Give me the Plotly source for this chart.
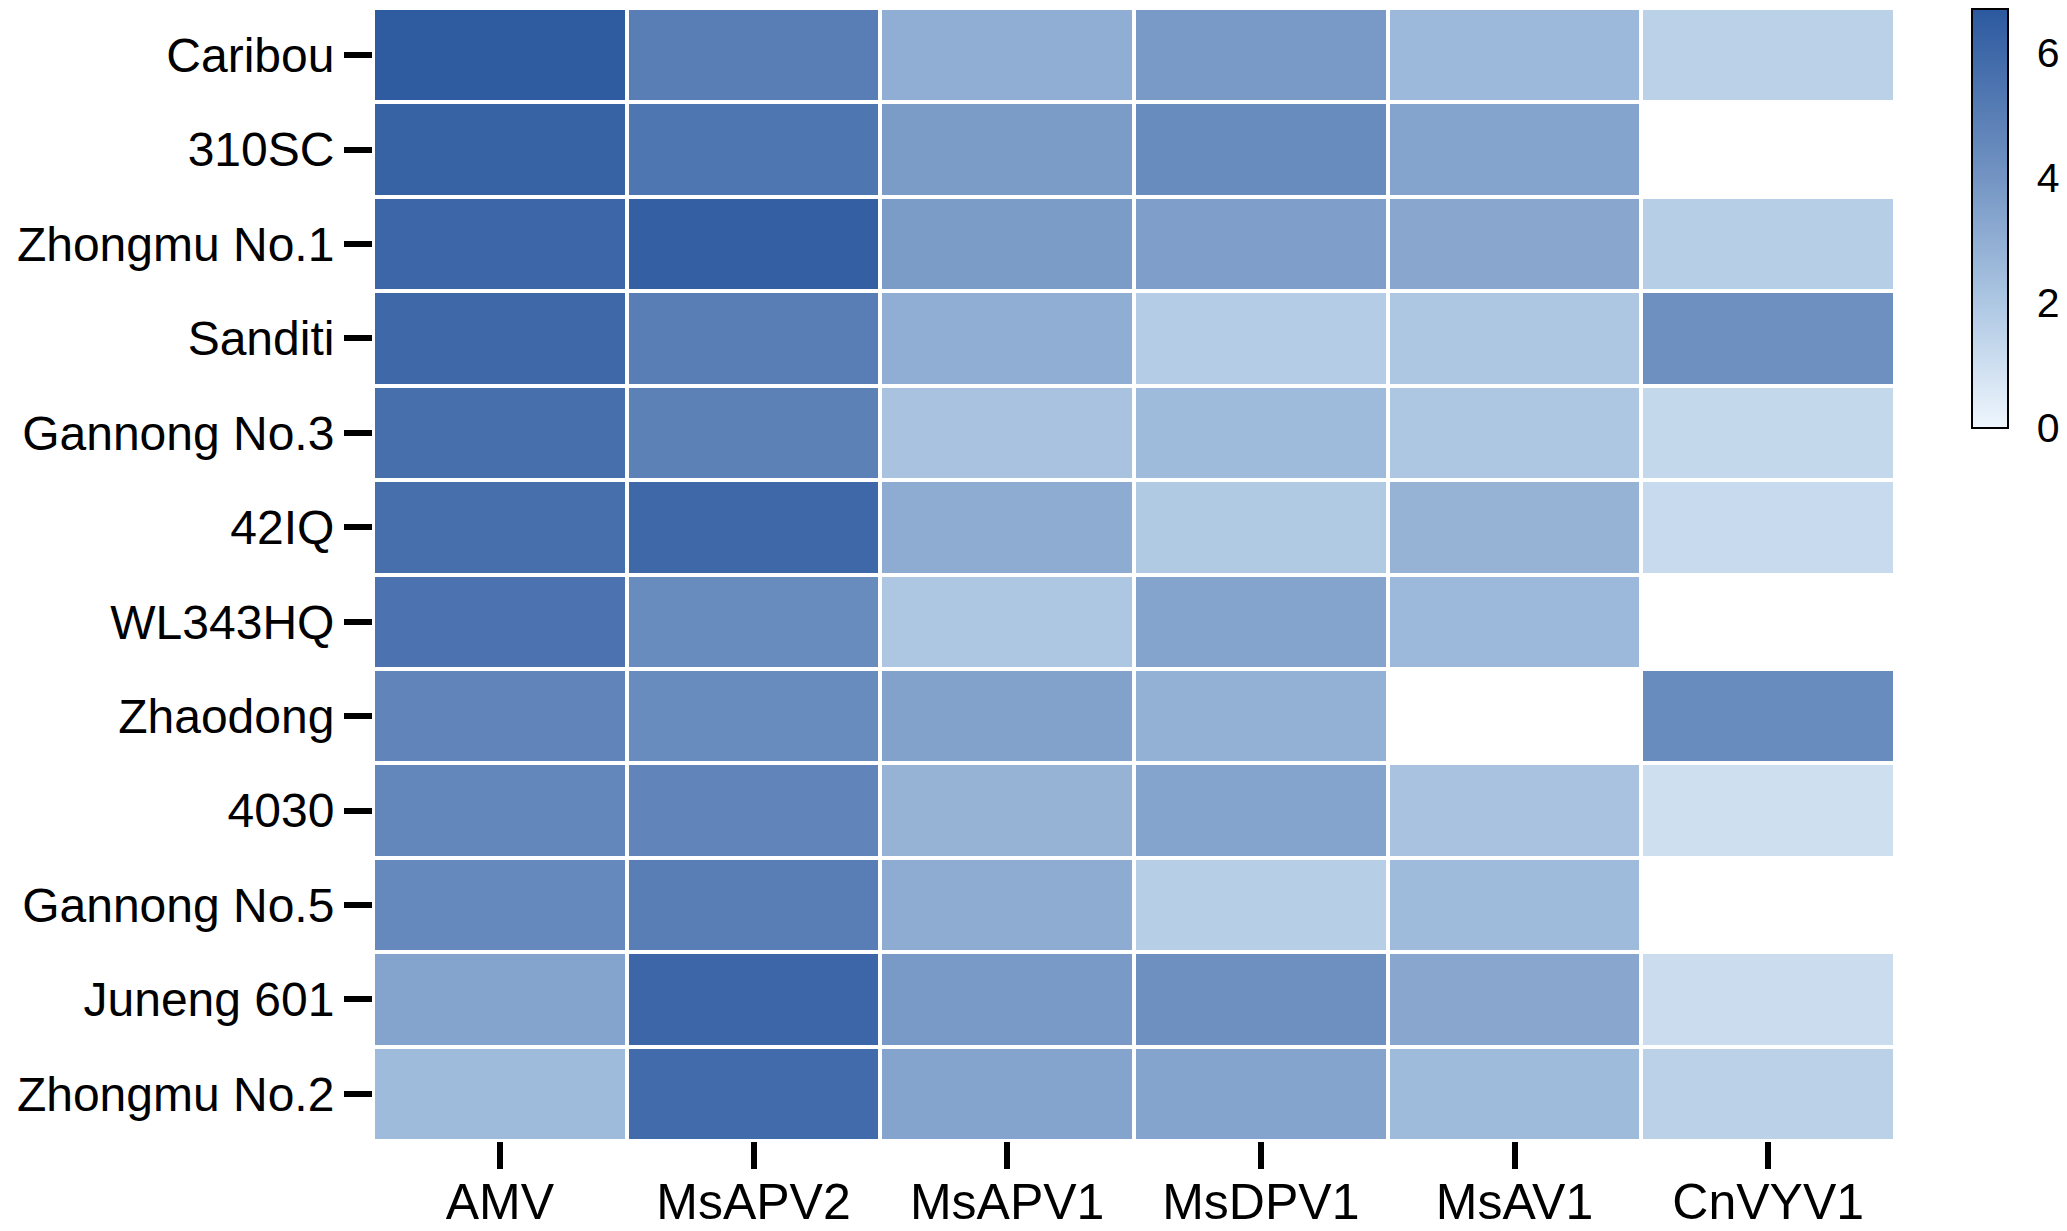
import plotly.graph_objects as go

viruses = ["AMV", "MsAPV2", "MsAPV1", "MsDPV1", "MsAV1", "CnVYV1"]
cultivars = ["Caribou", "310SC", "Zhongmu No.1", "Sanditi", "Gannong No.3", "42IQ",
             "WL343HQ", "Zhaodong", "4030", "Gannong No.5", "Juneng 601", "Zhongmu No.2"]

amv = [6.6, 6.3, 6.1, 6.0, 5.7, 5.7, 5.5, 4.7, 4.6, 4.5, 3.4, 2.5]
msapv2 = [5.0, 5.4, 6.4, 5.0, 4.9, 6.0, 4.4, 4.4, 4.7, 5.0, 6.1, 5.9]
msapv1 = [3.0, 3.7, 3.7, 3.0, 2.2, 3.1, 2.0, 3.5, 2.8, 3.1, 3.8, 3.4]
msdpv1 = [3.8, 4.4, 3.6, 1.8, 2.5, 1.9, 3.4, 2.9, 3.4, 1.7, 4.2, 3.4]
msav1 = [2.6, 3.4, 3.3, 2.0, 2.0, 2.8, 2.6, None, 2.2, 2.5, 3.3, 2.5]
cnvyv1 = [1.6, None, 1.7, 4.2, 1.3, 1.2, None, 4.4, 1.0, None, 1.1, 1.6]

cbar_ticks = [0, 2, 4, 6]

columns = [amv, msapv2, msapv1, msdpv1, msav1, cnvyv1]
z = [[col[i] for col in columns] for i in range(len(cultivars))]

colorscale = [
    [0.0, "#eff6fd"],
    [0.3, "#adc7e3"],
    [0.6, "#7394c3"],
    [1.0, "#2c599f"],
]

font_family = "Arial, Liberation Sans, Helvetica, sans-serif"

fig = go.Figure(go.Heatmap(
    z=z, x=viruses, y=cultivars,
    colorscale=colorscale, zmin=0, zmax=6.7,
    xgap=4, ygap=4,
    hoverongaps=False,
    colorbar=dict(
        x=1.0506, xanchor="left", xpad=0,
        y=0.999, yanchor="top", ypad=0,
        len=0.37, lenmode="fraction",
        thickness=36,
        outlinewidth=2, outlinecolor="black",
        tickvals=cbar_ticks,
        ticks="outside", ticklen=20, tickwidth=1, tickcolor="rgba(0,0,0,0)",
        tickfont=dict(family=font_family, size=41, color="black"),
    ),
))

fig.update_layout(
    width=2059, height=1223,
    margin=dict(l=365, r=172, t=0, b=90, autoexpand=False),
    paper_bgcolor="white", plot_bgcolor="white",
    font=dict(family=font_family, size=50, color="black"),
)
fig.update_xaxes(
    automargin=False,
    showline=False, showgrid=False, zeroline=False,
    ticks="outside", ticklen=27, tickwidth=6, tickcolor="black",
    ticklabelstandoff=-10,
    tickfont=dict(family=font_family, size=50, color="black"),
)
fig.update_yaxes(
    automargin=False,
    autorange="reversed",
    showline=False, showgrid=False, zeroline=False,
    ticks="outside", ticklen=28, tickwidth=6, tickcolor="black",
    ticklabelstandoff=0,
    tickfont=dict(family=font_family, size=48, color="black"),
)

fig.write_html("out.html")
